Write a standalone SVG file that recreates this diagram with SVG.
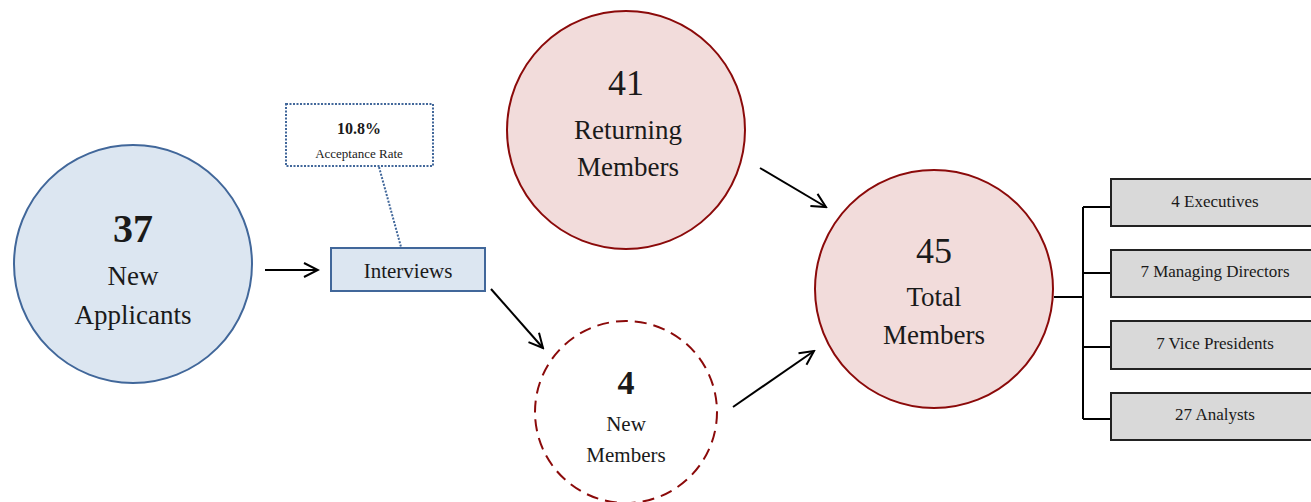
<svg xmlns="http://www.w3.org/2000/svg" width="1311" height="502" viewBox="0 0 1311 502">
<style>
text{font-family:"Liberation Serif","Times New Roman",serif;fill:#1a1a1a;text-anchor:middle}
.blue{fill:#dce6f1;stroke:#41679a;stroke-width:2}
.red{fill:#f2dcdb;stroke:#8b0a0a;stroke-width:2}
.conn{stroke:#000;stroke-width:2;fill:none}
.box{fill:#d9d9d9;stroke:#222;stroke-width:2}
.big{font-size:40px;font-weight:bold}
.num{font-size:36px}
.lbl{font-size:27px}
.sm{font-size:17px}
</style>
<defs>
<marker id="arr" viewBox="0 0 18 18" refX="16" refY="9" markerWidth="18" markerHeight="18" markerUnits="userSpaceOnUse" orient="auto">
<path d="M2,2 L16,9 L2,16" fill="none" stroke="#000" stroke-width="2"/>
</marker>
</defs>
<g id="connectors">
<line class="conn" x1="265" y1="270" x2="318" y2="270" marker-end="url(#arr)"/>
<line class="conn" x1="491" y1="289" x2="543" y2="348" marker-end="url(#arr)"/>
<line class="conn" x1="760" y1="168" x2="826" y2="207" marker-end="url(#arr)"/>
<line class="conn" x1="733" y1="407" x2="814" y2="351" marker-end="url(#arr)"/>
<line x1="379" y1="167" x2="401" y2="247" stroke="#41679a" stroke-width="2" stroke-dasharray="2,1.5"/>
<path class="conn" d="M1054,297 H1083 M1083,207 V419 M1083,207 H1111 M1083,273 H1111 M1083,347 H1111 M1083,419 H1111"/>
</g>
<g id="new-applicants">
<circle class="blue" cx="133" cy="264" r="119"/>
<text class="big" x="133" y="242">37</text>
<text class="lbl" x="133" y="285">New</text>
<text class="lbl" x="133" y="324">Applicants</text>
</g>
<g id="acceptance">
<rect x="286" y="104" width="147" height="62" fill="#fff" stroke="#41679a" stroke-width="2" stroke-dasharray="2,1.5"/>
<text x="359" y="134" font-size="16" font-weight="bold">10.8%</text>
<text x="359" y="158" font-size="13">Acceptance Rate</text>
</g>
<g id="interviews">
<rect class="blue" x="331" y="248" width="154" height="43"/>
<text x="408" y="278" font-size="21">Interviews</text>
</g>
<g id="returning">
<circle class="red" cx="626" cy="130" r="119"/>
<text class="num" x="626" y="95">41</text>
<text class="lbl" x="628" y="139">Returning</text>
<text class="lbl" x="628" y="176">Members</text>
</g>
<g id="new-members">
<circle cx="626" cy="412" r="91" fill="none" stroke="#8b0a0a" stroke-width="2" stroke-dasharray="12,7"/>
<text x="626" y="394" font-size="34" font-weight="bold">4</text>
<text x="626" y="431" font-size="21">New</text>
<text x="626" y="462" font-size="21">Members</text>
</g>
<g id="total">
<circle class="red" cx="934" cy="289" r="119"/>
<text class="num" x="934" y="263">45</text>
<text class="lbl" x="934" y="306">Total</text>
<text class="lbl" x="934" y="344">Members</text>
</g>
<g id="executives">
<rect class="box" x="1111" y="179" width="215" height="47"/>
<text class="sm" x="1215" y="207">4 Executives</text>
</g>
<g id="managing-directors">
<rect class="box" x="1111" y="250" width="215" height="47"/>
<text class="sm" x="1215" y="277">7 Managing Directors</text>
</g>
<g id="vice-presidents">
<rect class="box" x="1111" y="321" width="215" height="48"/>
<text class="sm" x="1215" y="349">7 Vice Presidents</text>
</g>
<g id="analysts">
<rect class="box" x="1111" y="393" width="215" height="47"/>
<text class="sm" x="1215" y="420">27 Analysts</text>
</g>
</svg>
